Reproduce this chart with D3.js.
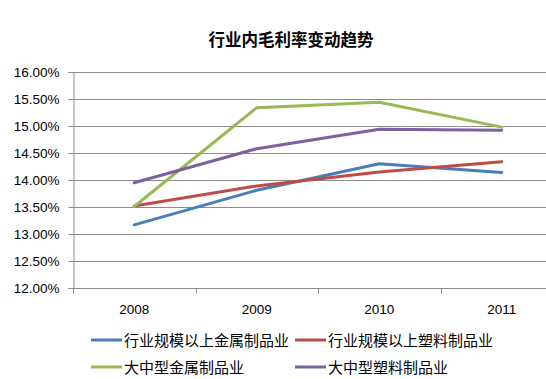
<!DOCTYPE html>
<html>
<head>
<meta charset="utf-8">
<script src="https://cdn.jsdelivr.net/npm/d3@7"></script>
<style>
  body { margin: 0; background: #fff; }
  svg { display: block; }
  .tick text { font-family: "Liberation Sans", Arial, sans-serif; font-size: 13.5px; fill: #000; }
  .grid line { stroke: #8c8c8c; stroke-width: 1; }
  .domain { stroke: #8c8c8c; }
</style>
</head>
<body>
<div id="chart"></div>
<script>
'use strict';

//categories and tick labels
const years = ['2008', '2009', '2010', '2011'];
const yTicks = [12, 12.5, 13, 13.5, 14, 14.5, 15, 15.5, 16];

//series values in percent
const metalAll     = [13.16, 13.80, 14.29, 14.13];
const plasticAll   = [13.51, 13.88, 14.14, 14.33];
const metalLarge   = [13.50, 15.33, 15.43, 14.97];
const plasticLarge = [13.94, 14.57, 14.93, 14.91];

const seriesNames  = ['行业规模以上金属制品业', '行业规模以上塑料制品业', '大中型金属制品业', '大中型塑料制品业'];
const seriesColors = ['#4a7ebb', '#be4b48', '#98b954', '#7d60a0'];
const seriesValues = [metalAll, plasticAll, metalLarge, plasticLarge];

const W = 546, H = 379;
const margin = {top: 71.5, left: 73, bottom: 287.5};

const svg = d3.select('#chart').append('svg').attr('width', W).attr('height', H);

//title
svg.append('text')
  .attr('x', 291).attr('y', 46)
  .attr('text-anchor', 'middle')
  .style('font-family', '"Noto Sans CJK SC", sans-serif')
  .style('font-size', '16.5px')
  .style('font-weight', 'bold')
  .text('行业内毛利率变动趋势');

//scales - plot runs past the right edge like the reference crop
const x = d3.scaleBand().domain(years).range([margin.left, margin.left + 4 * 122.5]);
const y = d3.scaleLinear().domain([12, 16]).range([margin.bottom, margin.top]);

//horizontal gridlines
svg.append('g').attr('class', 'grid')
  .selectAll('line').data(yTicks).join('line')
  .attr('x1', margin.left).attr('x2', W + 20)
  .attr('y1', d => Math.round(y(d)) + 0.5).attr('y2', d => Math.round(y(d)) + 0.5);

//y axis
const yAxis = d3.axisLeft(y).tickValues(yTicks).tickSize(5).tickPadding(9)
  .tickFormat(d => d.toFixed(2) + '%');
const gy = svg.append('g').attr('transform', `translate(${margin.left + 0.5}, 0.5)`).call(yAxis);
gy.selectAll('.tick line').attr('stroke', '#8c8c8c');

//x axis, ticks between categories
const gx = svg.append('g').attr('transform', `translate(0, ${Math.round(y(12)) + 0.5})`);
gx.append('line').attr('x1', margin.left).attr('x2', W + 20).attr('stroke', '#8c8c8c');
gx.selectAll('.xtick').data(years).join('line')
  .attr('class', 'xtick')
  .attr('x1', d => Math.round(x(d)) + 0.5).attr('x2', d => Math.round(x(d)) + 0.5)
  .attr('y1', 0).attr('y2', 5)
  .attr('stroke', '#8c8c8c');
gx.selectAll('.xlabel').data(years).join('text')
  .attr('class', 'xlabel')
  .attr('x', d => x(d) + x.bandwidth() / 2)
  .attr('y', 25)
  .attr('text-anchor', 'middle')
  .style('font-family', '"Liberation Sans", Arial, sans-serif')
  .style('font-size', '13.5px')
  .text(d => d);

//lines
const line = d3.line()
  .x((d, i) => x(years[i]) + x.bandwidth() / 2)
  .y(d => y(d));

seriesValues.forEach(function(vals, k) {
  svg.append('path')
    .attr('d', line(vals))
    .attr('fill', 'none')
    .attr('stroke', seriesColors[k])
    .attr('stroke-width', 3)
    .attr('stroke-linejoin', 'round')
    .attr('stroke-linecap', 'round');
});

//legend, two columns
const legX = [91, 295];
const legY = [340, 367];
seriesNames.forEach(function(name, k) {
  const lx = legX[k % 2], ly = legY[Math.floor(k / 2)];
  svg.append('line')
    .attr('x1', lx).attr('x2', lx + 31)
    .attr('y1', ly).attr('y2', ly)
    .attr('stroke', seriesColors[k]).attr('stroke-width', 3);
  svg.append('text')
    .attr('x', lx + 33).attr('y', ly + 5.5)
    .style('font-family', '"Noto Sans CJK SC", sans-serif')
    .style('font-size', '15px')
    .text(name);
});
</script>
</body>
</html>
